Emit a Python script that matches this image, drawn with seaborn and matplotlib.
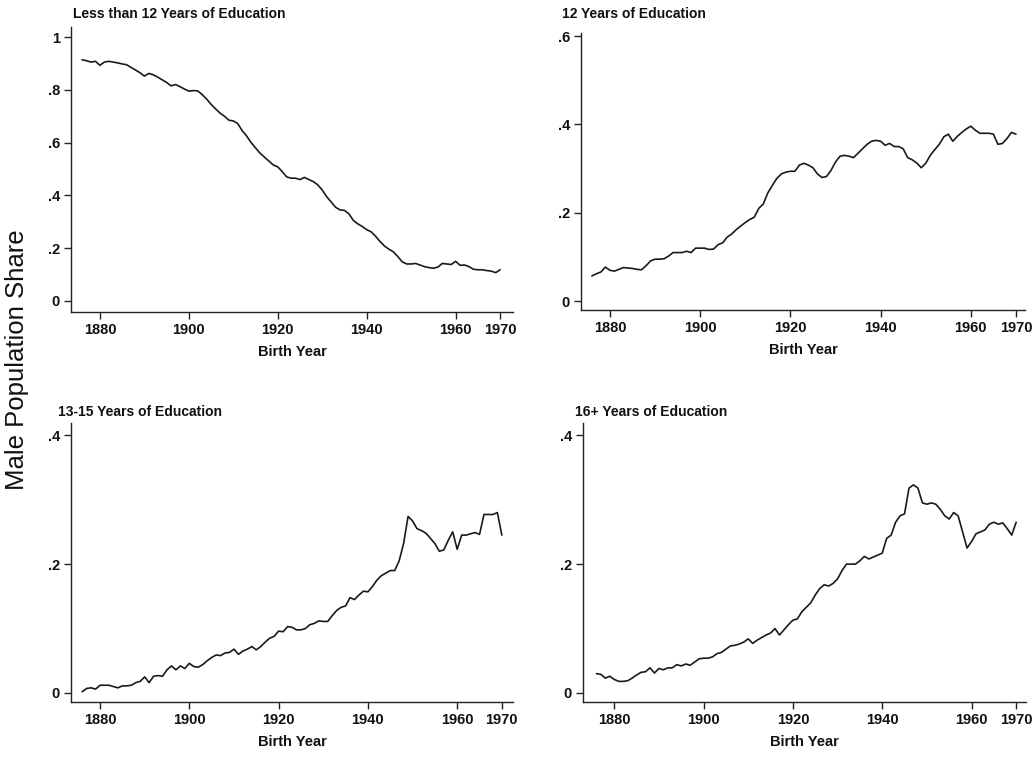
import numpy as np
import pandas as pd
import matplotlib
matplotlib.use("Agg")
import matplotlib.pyplot as plt
import seaborn as sns

years = list(range(1876, 1971))

less_than_12 = [
    0.914, 0.910, 0.905, 0.908,                                              # 1876-1879
    0.893, 0.905, 0.908, 0.905, 0.902, 0.898, 0.895, 0.885, 0.875, 0.865,  # 1880s
    0.852, 0.862, 0.857, 0.848, 0.838, 0.828, 0.815, 0.820, 0.812, 0.803,  # 1890s
    0.795, 0.797, 0.796, 0.782, 0.765, 0.745, 0.728, 0.712, 0.700, 0.685,  # 1900s
    0.682, 0.672, 0.645, 0.625, 0.600, 0.580, 0.560, 0.545, 0.530, 0.515,  # 1910s
    0.508, 0.490, 0.470, 0.465, 0.465, 0.460, 0.468, 0.460, 0.452, 0.440,  # 1920s
    0.420, 0.395, 0.375, 0.355, 0.345, 0.343, 0.330, 0.305, 0.292, 0.282,  # 1930s
    0.270, 0.262, 0.245, 0.225, 0.208, 0.196, 0.186, 0.168, 0.148, 0.140,  # 1940s
    0.140, 0.142, 0.136, 0.130, 0.126, 0.124, 0.128, 0.142, 0.140, 0.138,  # 1950s
    0.150, 0.135, 0.136, 0.130, 0.120, 0.118, 0.118, 0.115, 0.113, 0.107,  # 1960s
    0.118,                                                                   # 1970
]

twelve = [
    0.057, 0.062, 0.066, 0.077,
    0.070, 0.068, 0.072, 0.076, 0.075, 0.074, 0.072, 0.071, 0.080, 0.091,
    0.095, 0.095, 0.096, 0.102, 0.110, 0.110, 0.110, 0.113, 0.110, 0.120,
    0.120, 0.120, 0.117, 0.118, 0.128, 0.132, 0.145, 0.152, 0.162, 0.170,
    0.178, 0.185, 0.190, 0.210, 0.220, 0.245, 0.262, 0.278, 0.288, 0.292,
    0.294, 0.294, 0.308, 0.312, 0.308, 0.302, 0.288, 0.280, 0.282, 0.296,
    0.315, 0.328, 0.330, 0.328, 0.325, 0.335, 0.345, 0.355, 0.362, 0.364,
    0.362, 0.353, 0.357, 0.350, 0.350, 0.345, 0.325, 0.320, 0.313, 0.302,
    0.312, 0.330, 0.343, 0.355, 0.372, 0.378, 0.362, 0.373, 0.382, 0.390,
    0.396, 0.387, 0.380, 0.380, 0.380, 0.378, 0.355, 0.357, 0.368, 0.382,
    0.378,
]

thirteen_15 = [
    0.002, 0.007, 0.008, 0.006,
    0.012, 0.012, 0.012, 0.010, 0.008, 0.011, 0.011, 0.012, 0.016, 0.018,
    0.025, 0.016, 0.026, 0.027, 0.026, 0.036, 0.042, 0.036, 0.042, 0.038,
    0.046, 0.041, 0.040, 0.044, 0.050, 0.055, 0.059, 0.058, 0.062, 0.063,
    0.068, 0.060, 0.065, 0.068, 0.072, 0.067, 0.072, 0.079, 0.085, 0.088,
    0.096, 0.095, 0.103, 0.102, 0.098, 0.098, 0.100, 0.106, 0.108, 0.112,
    0.111, 0.111, 0.120, 0.128, 0.133, 0.135, 0.148, 0.145, 0.152, 0.158,
    0.157, 0.165, 0.175, 0.182, 0.186, 0.190, 0.190, 0.205, 0.232, 0.274,
    0.267, 0.255, 0.252, 0.248, 0.240, 0.232, 0.220, 0.222, 0.237, 0.250,
    0.223, 0.245, 0.245, 0.247, 0.249, 0.246, 0.277, 0.277, 0.277, 0.280,
    0.245,
]

sixteen_plus = [
    0.030, 0.029, 0.023, 0.026,
    0.021, 0.018, 0.018, 0.019, 0.023, 0.028, 0.032, 0.033, 0.039, 0.031,
    0.038, 0.036, 0.039, 0.039, 0.044, 0.042, 0.045, 0.043, 0.048, 0.053,
    0.054, 0.054, 0.056, 0.061, 0.063, 0.068, 0.073, 0.074, 0.076, 0.079,
    0.084, 0.077, 0.082, 0.086, 0.090, 0.093, 0.100, 0.090, 0.098, 0.106,
    0.113, 0.115, 0.126, 0.133, 0.140, 0.152, 0.162, 0.168, 0.166, 0.170,
    0.177, 0.190, 0.200, 0.200, 0.200, 0.205, 0.212, 0.208, 0.211, 0.214,
    0.217, 0.240, 0.245, 0.265, 0.275, 0.278, 0.318, 0.323, 0.318, 0.295,
    0.293, 0.295, 0.293, 0.285, 0.275, 0.270, 0.280, 0.275, 0.250, 0.225,
    0.235, 0.247, 0.250, 0.253, 0.262, 0.265, 0.262, 0.264, 0.255, 0.245,
    0.265,
]

panel_titles = ["Less than 12 Years of Education", "12 Years of Education",
                "13-15 Years of Education", "16+ Years of Education"]
x_ticks = [1880, 1900, 1920, 1940, 1960, 1970]
x_tick_labels = ["1880", "1900", "1920", "1940", "1960", "1970"]
y_ticks_1 = [0, 0.2, 0.4, 0.6, 0.8, 1.0]
y_tick_labels_1 = ["0", ".2", ".4", ".6", ".8", "1"]
y_ticks_2 = [0, 0.2, 0.4, 0.6]
y_tick_labels_2 = ["0", ".2", ".4", ".6"]
y_ticks_34 = [0, 0.2, 0.4]
y_tick_labels_34 = ["0", ".2", ".4"]
x_label = "Birth Year"
y_label = "Male Population Share"

sns.set_style("ticks")
plt.rcParams["font.family"] = ["Liberation Sans", "DejaVu Sans"]

W, H = 1034, 761
fig = plt.figure(figsize=(W / 100, H / 100), dpi=100)


def px_axes(left, right, top, bottom):
    return fig.add_axes([left / W, 1 - bottom / H, (right - left) / W, (bottom - top) / H])


panels = [
    dict(series=less_than_12, box=(71, 513, 27, 312), xlim=(1873.5, 1972.9),
         ylim=(-0.042, 1.038), yt=y_ticks_1, ytl=y_tick_labels_1, title_xy=(73, 14)),
    dict(series=twelve, box=(581, 1025, 33, 310), xlim=(1873.6, 1972.0),
         ylim=(-0.020, 0.607), yt=y_ticks_2, ytl=y_tick_labels_2, title_xy=(562, 14)),
    dict(series=thirteen_15, box=(71, 513, 423, 702), xlim=(1873.5, 1972.5),
         ylim=(-0.014, 0.419), yt=y_ticks_34, ytl=y_tick_labels_34, title_xy=(58, 412)),
    dict(series=sixteen_plus, box=(583, 1026, 423, 702), xlim=(1873.0, 1972.2),
         ylim=(-0.014, 0.419), yt=y_ticks_34, ytl=y_tick_labels_34, title_xy=(575, 412)),
]

for title, p in zip(panel_titles, panels):
    ax = px_axes(*p["box"])
    df = pd.DataFrame({"year": years, "share": p["series"]})
    sns.lineplot(data=df, x="year", y="share", ax=ax, color="#1a1a1a", linewidth=1.2)
    ax.set_xlim(*p["xlim"])
    ax.set_ylim(*p["ylim"])
    ax.set_xticks(x_ticks)
    ax.set_xticklabels(x_tick_labels)
    ax.set_yticks(p["yt"])
    ax.set_yticklabels(p["ytl"])
    ax.tick_params(axis="both", direction="out", length=5, width=1.0, color="#222222",
                   labelsize=10.5, pad=3, labelcolor="#111111")
    for lab in ax.get_xticklabels() + ax.get_yticklabels():
        lab.set_fontweight("bold")
    ax.set_xlabel(x_label, fontsize=10.5, fontweight="bold", labelpad=6, color="#111111")
    ax.set_ylabel("")
    sns.despine(ax=ax)
    for s in ("left", "bottom"):
        ax.spines[s].set_linewidth(1.0)
        ax.spines[s].set_color("#222222")
    tx, ty = p["title_xy"]
    fig.text(tx / W, 1 - ty / H, title, ha="left", va="center", fontsize=10,
             fontweight="bold", color="#111111")

fig.text(17 / W, 1 - 360 / H, y_label, rotation=90, ha="center", va="center",
         fontsize=18.5, color="#111111")

fig.savefig("out.png", dpi=100, facecolor="white")
